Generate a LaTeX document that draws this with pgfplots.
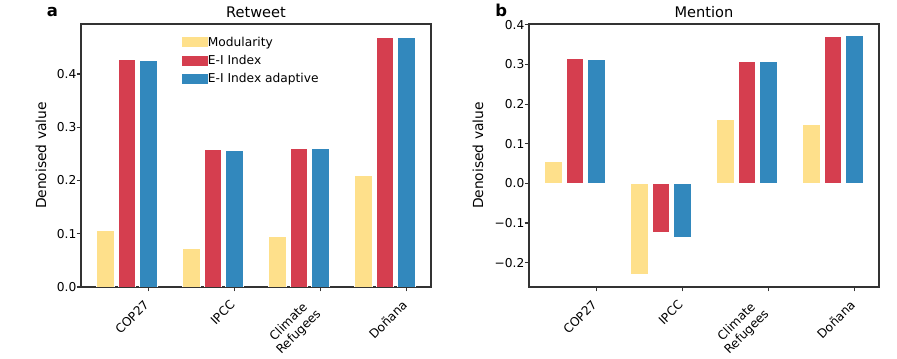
\documentclass[border=0pt]{standalone}
\usepackage{fontspec}
\setmainfont{DejaVu Sans}
\usepackage{pgfplots}
\pgfplotsset{compat=1.18}

\definecolor{cmod}{HTML}{FEE08B}
\definecolor{cei}{HTML}{D53E4F}
\definecolor{cad}{HTML}{3288BD}
\definecolor{spine}{HTML}{333333}

\newcommand\tfont{\fontsize{8.8bp}{10.4bp}\selectfont}

\pgfplotsset{
  panel/.style={
    scale only axis, width=252bp, height=189.36bp,
    axis line style={spine, line width=0.8bp},
    tick align=outside, major tick length=3.2bp,
    every tick/.style={spine, line width=0.8bp},
    xtick pos=bottom, ytick pos=left,
    xmin=-0.785, xmax=3.285,
    % single-line labels as normal ticks, the two-line one as an extra tick
    xtick={0,1,3},
    xticklabels={COP27, IPCC, Doñana},
    every x tick label/.style={xshift=-3.8bp, yshift=-5.5bp, rotate=45, anchor=north east,
      inner sep=0pt, font=\tfont},
    extra x ticks={2},
    extra x tick labels={{Climate\\Refugees}},
    extra x tick style={every x tick label/.style={xshift=-11.4bp, yshift=-4.3bp, rotate=45,
      anchor=north east, inner sep=0pt, align=center, font=\tfont}},
    yticklabel style={anchor=east, inner sep=0pt, font=\tfont},
    ylabel={Denoised value},
    ylabel style={font=\tfont},
    every axis title/.style={at={(0.5,1)}, anchor=base, yshift=4.5bp, font=\fontsize{10.5bp}{12.5bp}\selectfont},
  },
  barm/.style={ybar, bar width=0.2, bar shift=-0.5, fill=cmod, draw=white, line width=0.7bp,
    legend image code/.code={\fill[cmod] (0bp,-3.25bp) rectangle (18bp,3.25bp);}},
  bare/.style={ybar, bar width=0.2, bar shift=-0.25, fill=cei, draw=white, line width=0.7bp,
    legend image code/.code={\fill[cei] (0bp,-3.25bp) rectangle (18bp,3.25bp);}},
  bara/.style={ybar, bar width=0.2, bar shift=0, fill=cad, draw=white, line width=0.7bp,
    legend image code/.code={\fill[cad] (0bp,-3.25bp) rectangle (18bp,3.25bp);}},
}

\begin{document}
\begin{tikzpicture}
\path[use as bounding box] (0,0) rectangle (645.84bp,258.48bp);

% panel a: retweet
\begin{axis}[panel,
  at={(58.32bp,51.84bp)}, anchor=south west,
  ymin=0, ymax=0.494,
  ytick={0,0.1,0.2,0.3,0.4},
  yticklabels={0.0,0.1,0.2,0.3,0.4},
  title={Retweet},
  every axis y label/.style={at={(axis description cs:-0.1143,0.5)}, rotate=90, anchor=center},
  legend style={draw=none, fill=none, inner sep=0pt, at={(axis description cs:0.2877,0.956)}, anchor=north west,
    font=\tfont, row sep=3.5bp,
    nodes={inner sep=0pt, text height=7.5bp, text depth=2bp}},
  legend cell align=left,
  /tikz/every even column/.append style={column sep=7.2bp},
]
\addplot[barm] coordinates {(0,0.107) (1,0.073) (2,0.094) (3,0.209)};
\addlegendentry{Modularity}
\addplot[bare] coordinates {(0,0.427) (1,0.259) (2,0.260) (3,0.469)};
\addlegendentry{E-I Index}
\addplot[bara] coordinates {(0,0.426) (1,0.257) (2,0.260) (3,0.469)};
\addlegendentry{E-I Index adaptive}
\end{axis}

% panel b: mention
\begin{axis}[panel,
  at={(380.88bp,51.84bp)}, anchor=south west,
  ymin=-0.2615, ymax=0.402,
  ytick={-0.2,-0.1,0,0.1,0.2,0.3,0.4},
  yticklabels={−0.2,−0.1,0.0,0.1,0.2,0.3,0.4},
  title={Mention},
  every axis y label/.style={at={(axis description cs:-0.1457,0.5)}, rotate=90, anchor=center},
]
\addplot[barm] coordinates {(0,0.056) (1,-0.231) (2,0.161) (3,0.148)};
\addplot[bare] coordinates {(0,0.316) (1,-0.123) (2,0.307) (3,0.371)};
\addplot[bara] coordinates {(0,0.312) (1,-0.136) (2,0.307) (3,0.372)};
\end{axis}

\node[anchor=base west, inner sep=0pt, font=\fontsize{11.8bp}{14bp}\selectfont\bfseries] at (33.6bp,246.5bp) {a};
\node[anchor=base west, inner sep=0pt, font=\fontsize{11.8bp}{14bp}\selectfont\bfseries] at (356.4bp,246.5bp) {b};
\end{tikzpicture}
\end{document}
